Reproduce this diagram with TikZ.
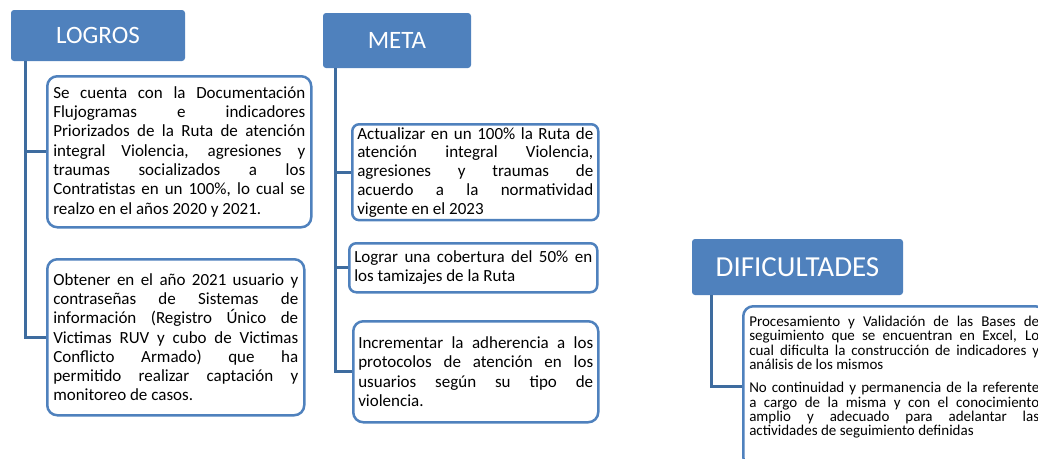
\documentclass[tikz,border=0pt]{standalone}
\usepackage{fontspec}
\setmainfont{Carlito}
\tolerance=10000
\hbadness=10000
\hyphenpenalty=10000
\setlength{\parindent}{0pt}
\definecolor{hdblue}{HTML}{4F81BD}
\definecolor{lnblue}{HTML}{3E6C9F}
\tikzset{head/.style = {fill=hdblue, rounded corners=3pt, text=white, inner sep=0pt},
         item/.style = {draw=hdblue, fill=white, line width=2.5pt, rounded corners=10pt, anchor=north west, align=justify, inner xsep=6pt, inner ysep=3pt, font=\fontsize{17}{19.3}\selectfont},
         itemsmall/.style = {item, font=\fontsize{15}{14.3}\selectfont},
         link/.style = {draw=lnblue, line width=3pt}}

\begin{document}
\begin{tikzpicture}[x=1pt, y=-1pt]
        \useasboundingbox (0,0) rectangle (1038,458);
        \clip (0,0) rectangle (1038,458);

        % cabeceras
        \node[head, minimum width=174pt, minimum height=51pt, font=\fontsize{25}{25}\selectfont] (logros) at (98,35.5) {LOGROS};
        \node[head, minimum width=148pt, minimum height=55pt, font=\fontsize{25}{25}\selectfont] (meta) at (397,40.5) {META};
        \node[head, minimum width=211pt, minimum height=56pt, font=\fontsize{29}{29}\selectfont] (dific) at (797.5,267) {DIFICULTADES};

        % logros
        \node[item, text width=252pt, minimum height=151pt] (l1) at (46,75) {Se cuenta con la Documentación\linebreak Flujogramas e indicadores\linebreak Priorizados de la Ruta de atención\linebreak integral Violencia, agresiones y\linebreak traumas socializados a los\linebreak Contratistas en un 100\%, lo cual se\linebreak realzo en el años 2020 y 2021.};
        \node[item, text width=245pt, minimum height=156pt] (l2) at (46,258) {Obtener en el año 2021 usuario y\linebreak contraseñas de Sistemas de\linebreak información (Registro Único de\linebreak Victimas RUV y cubo de Victimas\linebreak Conflicto Armado) que ha\linebreak permitido realizar captación y\linebreak monitoreo de casos.};

        % meta
        \node[item, rounded corners=7pt, inner xsep=5pt, text width=236pt, minimum height=95pt, font=\fontsize{17}{18.8}\selectfont] (m1) at (351,123) {Actualizar en un 100\% la Ruta de\linebreak atención integral Violencia,\linebreak agresiones y traumas de\linebreak acuerdo a la normatividad\linebreak vigente en el 2023};
        \node[item, rounded corners=7pt, inner xsep=5pt, text width=238pt, minimum height=49pt] (m2) at (348,242) {Lograr una cobertura del 50\% en\linebreak los tamizajes de la Ruta};
        \node[item, inner xsep=5pt, text width=235pt, minimum height=101pt] (m3) at (352,320) {Incrementar la adherencia a los\linebreak protocolos de atención en los\linebreak usuarios según su tipo de\linebreak violencia.};

        % dificultades (la caja sigue fuera del borde)
        \node[itemsmall, text width=290pt, inner ysep=10pt] (d1) at (742,305) {Procesamiento y Validación de las Bases de\linebreak seguimiento que se encuentran en Excel, Lo\linebreak cual dificulta la construcción de indicadores y\linebreak análisis de los mismos\par\vspace{9pt}No continuidad y permanencia de la referente\linebreak a cargo de la misma y con el conocimiento\linebreak amplio y adecuado para adelantar las\linebreak actividades de seguimiento definidas\par\vspace{7pt}\hbox{}};

        \draw[link]([xshift=15pt]logros.south west) |- (l1.west);
        \draw[link]([xshift=15pt]logros.south west) |- (l2.west);
        \draw[link]([xshift=13pt]meta.south west) |- (m1.west);
        \draw[link]([xshift=13pt]meta.south west) |- (m2.west);
        \draw[link]([xshift=13pt]meta.south west) |- (m3.west);
        \draw[link]([xshift=20pt]dific.south west) |- (d1.west);
\end{tikzpicture}
\end{document}
